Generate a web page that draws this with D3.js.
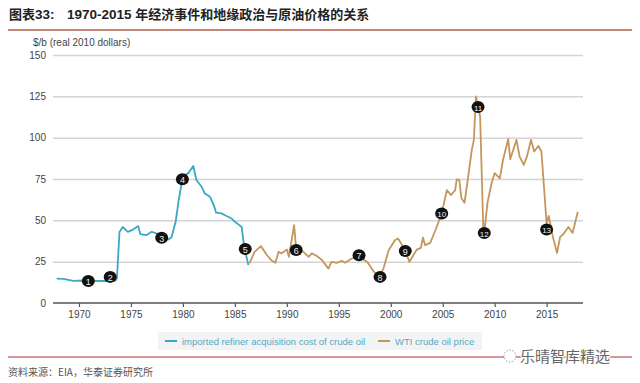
<!DOCTYPE html>
<html><head><meta charset="utf-8">
<script src="https://cdn.jsdelivr.net/npm/d3@7"></script>
<style>
html,body{margin:0;padding:0;background:#fff;}
svg{display:block;}
</style></head>
<body>
<svg id="c" width="640" height="383"></svg>
<script>
// ---------- data ----------
const blueYears = [1967.85,1968.5,1969.45,1970.4,1971.4,1972.5,1973.5,1973.65,1973.9,1974.2,1974.7,1975.2,1975.7,1975.9,1976.5,1977.0,1977.5,1978.0,1978.6,1978.9,1979.3,1979.6,1979.9,1980.2,1980.5,1981.0,1981.3,1981.8,1982.1,1982.6,1983.0,1983.2,1983.7,1984.2,1984.7,1985.0,1985.3,1985.65,1985.9,1986.3];
const blueValues = [14.8,14.6,13.4,13.6,13.4,13.3,13.4,14.8,43,46,43,44.4,46.5,41.7,41.1,43.1,42,40.5,38.4,39.6,49.1,62.3,73.4,77.4,78.4,82.9,74.4,70.3,66.3,64.3,58.6,54.6,54.2,52.6,51.1,49.1,47.7,46,34,22.9];
const wtiYears = [1986.4,1986.9,1987.5,1988.1,1988.5,1988.9,1989.2,1989.5,1990.0,1990.2,1990.7,1990.9,1991.6,1992.1,1992.4,1992.9,1993.4,1994.0,1994.3,1994.8,1995.3,1995.6,1996.1,1996.9,1997.4,1997.8,1998.4,1998.9,1999.3,1999.8,2000.4,2000.7,2001.0,2001.4,2001.8,2002.5,2002.9,2003.1,2003.3,2003.8,2004.3,2004.9,2005.4,2005.8,2006.2,2006.35,2006.6,2006.8,2007.1,2007.45,2007.8,2008.0,2008.2,2008.4,2008.6,2008.9,2009.0,2009.3,2009.7,2010.0,2010.5,2010.8,2011.3,2011.5,2012.1,2012.4,2012.8,2013.1,2013.5,2013.8,2014.2,2014.5,2015.0,2015.2,2015.6,2016.0,2016.3,2016.6,2017.1,2017.5,2018.0];
const wtiValues = [23.9,30.9,34.4,28.9,25.9,24.3,30.9,30,32.4,27.9,47.1,32.4,30.9,27.9,30,28.4,25.9,20.8,24.9,24.3,25.5,24.3,26.3,29,26.3,24.3,18.8,16,20.8,31.9,38,39,36,31.5,24.9,32.3,33.3,39.6,35,36.4,44,54.2,68.3,65.3,68.3,74.8,74.4,63.3,60.6,76.4,92.6,98.7,124.9,118.5,112.8,46,42.4,60.3,72.4,78.5,75.4,86.5,99.1,87,98.7,88.5,83.5,88.5,98.7,91.6,95,91.6,48.1,52.6,40,30.3,40,41.6,46,42.4,55.2];
const eventNums = [1,2,3,4,5,6,7,8,9,10,11,12,13];
const eventYears = [1970.9,1973.0,1977.96,1979.95,1986.0,1990.9,1996.95,1998.97,2001.4,2004.9,2008.4,2009.0,2015.0];
const eventValues = [13.3,15.8,39.4,74.8,32.6,32,28.9,15.8,31.5,54.2,118.5,42.4,44.5];
const yTicks = [0,25,50,75,100,125,150];
const xTicks = [1970,1975,1980,1985,1990,1995,2000,2005,2010,2015];
const seriesNames = ["imported refiner acquisition cost of crude oil","WTI crude oil price"];

// ---------- chart ----------
const svg = d3.select("#c");
const latin = "'Liberation Sans', Arial, sans-serif";
const cjk = "'Noto Sans CJK SC', sans-serif";
const blue = "#3aa8c4", brown = "#c4965c";

const x = d3.scaleLinear().domain([1967.5, 2018.5]).range([53, 583]);
const y = d3.scaleLinear().domain([0, 150]).range([303, 55]);

// title
const t = svg.append("text").attr("x", 9).attr("y", 19).attr("font-weight", "bold").attr("fill", "#222");
t.append("tspan").attr("font-family", cjk).attr("font-size", 13).text("图表");
t.append("tspan").attr("font-family", latin).attr("font-size", 13.5).text("33:");
t.append("tspan").attr("x", 67).attr("font-family", latin).attr("font-size", 13.5).text("1970-2015 ");
t.append("tspan").attr("font-family", cjk).attr("font-size", 13).text("年经济事件和地缘政治与原油价格的关系");
svg.append("line").attr("x1", 8).attr("x2", 632).attr("y1", 30).attr("y2", 30).attr("stroke", "#b4614f").attr("stroke-width", 1.5);

// y axis title
svg.append("text").attr("x", 33).attr("y", 46).attr("font-family", latin).attr("font-size", 10).attr("fill", "#444").text("$/b (real 2010 dollars)");

// grid
const yAxis = d3.axisLeft(y).tickValues(yTicks).tickSize(-(583 - 53)).tickPadding(7).tickFormat(d3.format("d"));
const gy = svg.append("g").attr("transform", "translate(53,0)").call(yAxis);
gy.select(".domain").remove();
gy.selectAll(".tick line").attr("stroke", "#d4d4d4").attr("stroke-width", 1.5).filter(d => d === 0).remove();
gy.selectAll(".tick text").attr("font-family", latin).attr("font-size", 10).attr("fill", "#444");

// x axis
const xAxis = d3.axisBottom(x).tickValues(xTicks).tickSize(4).tickPadding(4).tickFormat(d3.format("d"));
const gx = svg.append("g").attr("transform", "translate(0,303)").call(xAxis);
gx.select(".domain").attr("stroke", "#555").attr("stroke-width", 1.5).attr("d", `M53,0H583`);
gx.selectAll(".tick line").attr("stroke", "#555").attr("stroke-width", 1.2);
gx.selectAll(".tick text").attr("font-family", latin).attr("font-size", 10).attr("fill", "#444");

// lines
const line = d3.line().x(d => x(d[0])).y(d => y(d[1]));
svg.append("path").datum(d3.zip(blueYears, blueValues)).attr("d", line)
  .attr("fill", "none").attr("stroke", blue).attr("stroke-width", 1.8).attr("stroke-linejoin", "round");
svg.append("path").datum(d3.zip(wtiYears, wtiValues)).attr("d", line)
  .attr("fill", "none").attr("stroke", brown).attr("stroke-width", 1.8).attr("stroke-linejoin", "round");

// event markers
const ev = svg.append("g").selectAll("g").data(d3.zip(eventNums, eventYears, eventValues)).join("g")
  .attr("transform", d => `translate(${x(d[1])},${y(d[2])})`);
ev.append("ellipse").attr("rx", 6.5).attr("ry", 6).attr("fill", "#111");
ev.append("text").attr("y", 3.8).attr("text-anchor", "middle").attr("font-family", latin)
  .attr("font-size", d => d[0] >= 10 ? 8 : 9).attr("fill", "#eee").text(d => d[0]);

// legend
svg.append("rect").attr("x", 158).attr("y", 332).attr("width", 324).attr("height", 18).attr("fill", "#f1f3f5");
const lg = svg.append("g");
const items = [{c: blue, x: 165, name: seriesNames[0]}, {c: brown, x: 378, name: seriesNames[1]}];
items.forEach(it => {
  lg.append("line").attr("x1", it.x).attr("x2", it.x + 12).attr("y1", 341).attr("y2", 341).attr("stroke", it.c).attr("stroke-width", 2);
  lg.append("text").attr("x", it.x + 17).attr("y", 344.5).attr("font-family", latin).attr("font-size", 9.5).attr("fill", "#5aa8be").text(it.name);
});

// bottom rule and source
svg.append("line").attr("x1", 8).attr("x2", 632).attr("y1", 357).attr("y2", 357).attr("stroke", "#c9767a").attr("stroke-width", 1.3);
svg.append("circle").attr("cx", 510).attr("cy", 356).attr("r", 6).attr("fill", "#fff").attr("stroke", "#999").attr("stroke-dasharray", "1.5,1.5");
svg.append("text").attr("x", 520).attr("y", 362).attr("font-family", cjk).attr("font-size", 15).attr("fill", "#666")
  .attr("stroke", "#fff").attr("stroke-width", 2).attr("paint-order", "stroke").text("乐晴智库精选");
svg.append("text").attr("x", 8).attr("y", 376).attr("font-family", cjk).attr("font-size", 10).attr("fill", "#555").text("资料来源：EIA，华泰证券研究所");
</script>
</body></html>
